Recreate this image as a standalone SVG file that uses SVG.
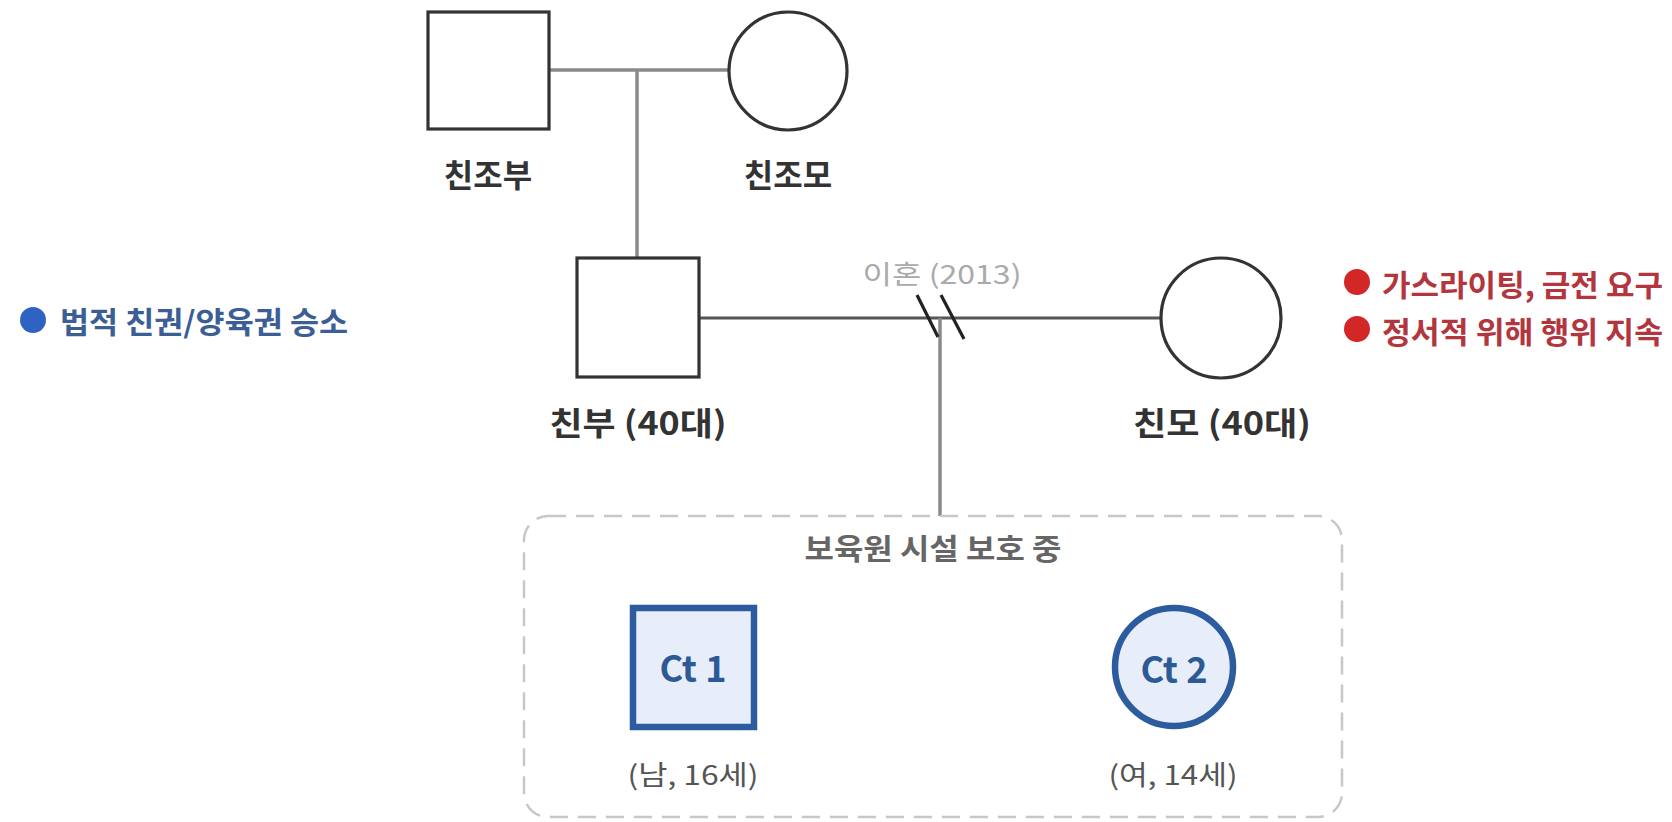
<svg xmlns="http://www.w3.org/2000/svg" width="1672" height="822" viewBox="0 0 1672 822">
<style>
text{font-family:"Noto Sans CJK KR","Noto Sans",sans-serif;text-anchor:middle;dominant-baseline:central}
.person{fill:#fff;stroke:#333;stroke-width:3.2}
.child{fill:#e8eef9;stroke:#2d5c9e;stroke-width:6.5}
.lbl{font-size:32px;font-weight:700;fill:#333}
.age{font-size:27px;fill:#555}
.ct{font-size:36px;font-weight:700;fill:#2d5a96}
.line-g{stroke:#8a8a8a;stroke-width:3.5;fill:none}
.line-d{stroke:#555;stroke-width:3.2;fill:none}
.note-b{font-size:30px;font-weight:700;fill:#3b5f95;text-anchor:start}
.note-r{font-size:30px;font-weight:700;fill:#b3353d;text-anchor:start}
</style>
<rect width="1672" height="822" fill="#fff"/>
<g id="connectors">
<line class="line-g" x1="549" y1="70" x2="729" y2="70"/>
<line class="line-g" x1="637" y1="70" x2="637" y2="258"/>
<line class="line-d" x1="700" y1="318" x2="1160" y2="318"/>
<line class="line-g" x1="940" y1="318" x2="940" y2="516"/>
<line stroke="#222" stroke-width="3.2" x1="917" y1="295" x2="938" y2="337"/>
<line stroke="#222" stroke-width="3.2" x1="941" y1="295" x2="964" y2="339"/>
<text x="942" y="272" font-size="26" fill="#aaa" textLength="159" lengthAdjust="spacingAndGlyphs">이혼 (2013)</text>
</g>
<g id="grandfather">
<rect class="person" x="428" y="12" width="121" height="117"/>
<text class="lbl" x="488" y="173">친조부</text>
</g>
<g id="grandmother">
<circle class="person" cx="788" cy="71" r="59"/>
<text class="lbl" x="788" y="173">친조모</text>
</g>
<g id="father">
<rect class="person" x="577" y="258" width="122" height="119"/>
<text class="lbl" x="638" y="421" textLength="177" lengthAdjust="spacingAndGlyphs">친부 (40대)</text>
</g>
<g id="mother">
<circle class="person" cx="1221" cy="318" r="60"/>
<text class="lbl" x="1222" y="421" textLength="178" lengthAdjust="spacingAndGlyphs">친모 (40대)</text>
</g>
<g id="note-left">
<circle cx="33" cy="320" r="13" fill="#2e63c4"/>
<text class="note-b" x="60" y="320" textLength="288" lengthAdjust="spacingAndGlyphs">법적 친권/양육권 승소</text>
</g>
<g id="note-right">
<circle cx="1357" cy="282" r="13" fill="#d32626"/>
<text class="note-r" x="1382" y="283" textLength="281" lengthAdjust="spacingAndGlyphs">가스라이팅, 금전 요구</text>
<circle cx="1357" cy="329" r="13" fill="#d32626"/>
<text class="note-r" x="1382" y="330" textLength="281" lengthAdjust="spacingAndGlyphs">정서적 위해 행위 지속</text>
</g>
<g id="facility">
<rect x="524" y="516" width="818" height="301" rx="24" fill="none" stroke="#c8c8cc" stroke-width="2.5" stroke-dasharray="18 10"/>
<text x="933" y="547" font-size="29" font-weight="700" fill="#666" textLength="257" lengthAdjust="spacingAndGlyphs">보육원 시설 보호 중</text>
</g>
<g id="ct1">
<rect class="child" x="633" y="608" width="121" height="119"/>
<text class="ct" x="693" y="666" textLength="67" lengthAdjust="spacingAndGlyphs">Ct 1</text>
<text class="age" x="693" y="773" textLength="131" lengthAdjust="spacingAndGlyphs">(남, 16세)</text>
</g>
<g id="ct2">
<circle class="child" cx="1174" cy="667" r="59"/>
<text class="ct" x="1174" y="667" textLength="67" lengthAdjust="spacingAndGlyphs">Ct 2</text>
<text class="age" x="1173" y="773" textLength="129" lengthAdjust="spacingAndGlyphs">(여, 14세)</text>
</g>
</svg>
